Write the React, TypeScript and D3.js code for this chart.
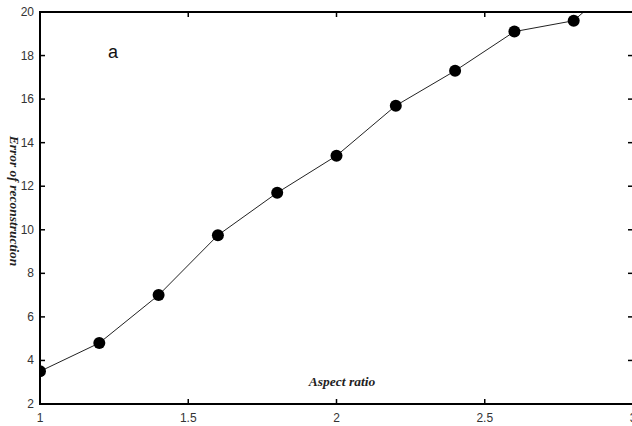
import React from "react";
import * as d3 from "d3";

const xValues = [1.0, 1.2, 1.4, 1.6, 1.8, 2.0, 2.2, 2.4, 2.6, 2.8, 3.0];
const errorValues = [3.5, 4.8, 7.0, 9.75, 11.7, 13.4, 15.7, 17.3, 19.1, 19.6, 22.0];
const xTicks = [1, 1.5, 2, 2.5, 3];
const yTicks = [2, 4, 6, 8, 10, 12, 14, 16, 18, 20];

const W = 632;
const H = 426;
const left = 40;
const right = 633;
const top = 12;
const bottom = 404;

export default function App() {
  const x = d3.scaleLinear().domain([1, 3]).range([left, right]);
  const y = d3.scaleLinear().domain([2, 20]).range([bottom, top]);
  const data = xValues.map((v, i) => ({ x: v, y: errorValues[i] }));
  const line = d3
    .line<{ x: number; y: number }>()
    .x((d) => x(d.x))
    .y((d) => y(d.y));
  const tickFont = "Liberation Sans, Arial, sans-serif";
  return (
    <svg
      width={W}
      height={H}
      style={{ position: "absolute", left: 0, top: 0, background: "#fff" }}
    >
      <defs>
        <clipPath id="plot">
          <rect x={left} y={top} width={right - left} height={bottom - top} />
        </clipPath>
      </defs>
      <rect x={0} y={0} width={W} height={H} fill="#fff" />
      <g clipPath="url(#plot)">
        <path d={line(data) || ""} fill="none" stroke="#222" strokeWidth={1} />
        {data.map((d, i) => (
          <circle key={i} cx={x(d.x)} cy={y(d.y)} r={6} fill="#000" />
        ))}
      </g>
      {/* frame */}
      <rect
        x={left}
        y={top}
        width={right - left}
        height={bottom - top}
        fill="none"
        stroke="#000"
        strokeWidth={2}
      />
      {/* x ticks */}
      {xTicks.map((t) => (
        <g key={"x" + t}>
          <line x1={x(t)} x2={x(t)} y1={bottom} y2={bottom - 5} stroke="#000" strokeWidth={1.5} />
          <line x1={x(t)} x2={x(t)} y1={top} y2={top + 5} stroke="#000" strokeWidth={1.5} />
          <text
            x={x(t)}
            y={bottom + 18}
            textAnchor="middle"
            fontFamily={tickFont}
            fontSize={12}
            fill="#333"
          >
            {String(t)}
          </text>
        </g>
      ))}
      {/* y ticks */}
      {yTicks.map((t) => (
        <g key={"y" + t}>
          <line x1={left} x2={left + 5} y1={y(t)} y2={y(t)} stroke="#000" strokeWidth={1.5} />
          <line x1={right} x2={right - 5} y1={y(t)} y2={y(t)} stroke="#000" strokeWidth={1.5} />
          <text
            x={left - 6}
            y={y(t) + 4}
            textAnchor="end"
            fontFamily={tickFont}
            fontSize={12}
            fill="#333"
          >
            {String(t)}
          </text>
        </g>
      ))}
      <text x={108} y={58} fontFamily={tickFont} fontSize={18} fill="#111">
        a
      </text>
      <text
        x={342}
        y={386}
        textAnchor="middle"
        fontFamily="Liberation Serif, Times New Roman, serif"
        fontStyle="italic"
        fontWeight="bold"
        fontSize={13.5}
        fill="#222"
      >
        Aspect ratio
      </text>
      <text
        transform={`translate(10, 201) rotate(90)`}
        textAnchor="middle"
        fontFamily="Liberation Serif, Times New Roman, serif"
        fontStyle="italic"
        fontWeight="bold"
        fontSize={13.5}
        fill="#222"
      >
        Error of reconstruction
      </text>
    </svg>
  );
}
